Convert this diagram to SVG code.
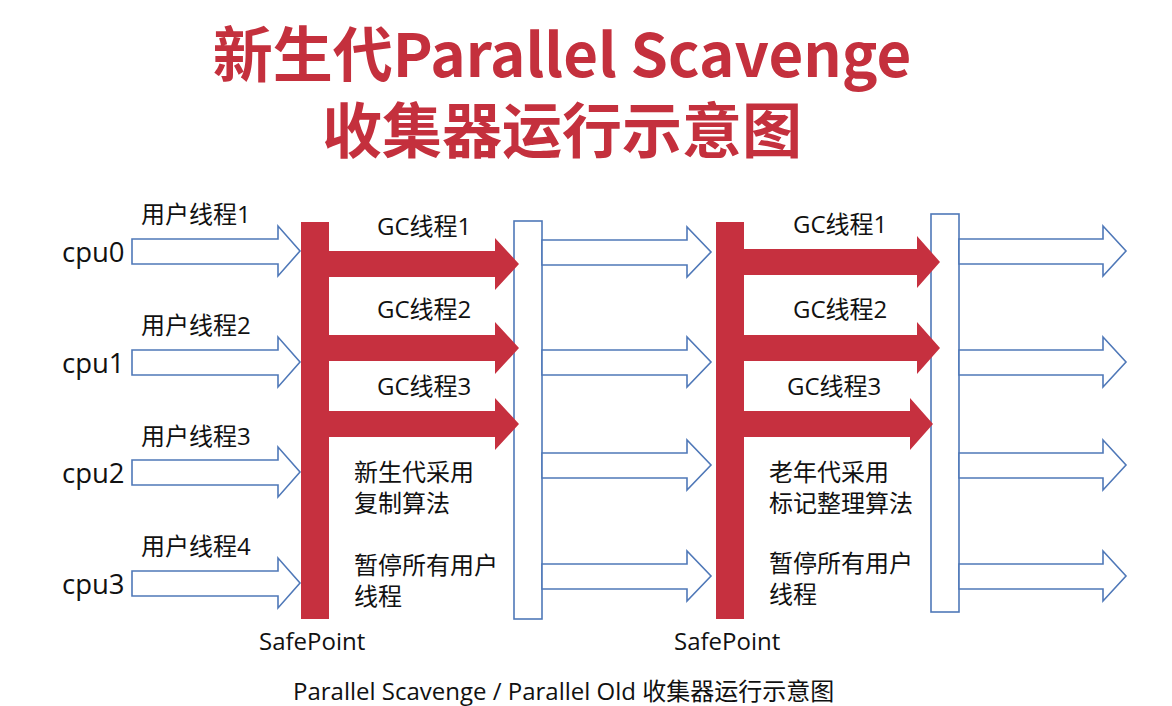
<svg xmlns="http://www.w3.org/2000/svg" width="1172" height="706" viewBox="0 0 1172 706">
<style>
.title{font-family:"Noto Sans CJK SC","Noto Sans",sans-serif;font-weight:bold;font-size:60px;fill:#C4303D;text-anchor:middle}
.lbl{font-family:"Open Sans","Noto Sans CJK SC",sans-serif;font-size:24px;fill:#111}
.cpu{font-family:"Open Sans","Noto Sans CJK SC",sans-serif;font-size:27.5px;fill:#111}
.note{font-family:"Open Sans","Noto Sans CJK SC",sans-serif;font-size:24px;fill:#111}
.cap{font-family:"Open Sans","Noto Sans CJK SC",sans-serif;font-size:24px;fill:#111}
.red{fill:#C6303F}
.box{fill:#fff;stroke:#4F78B8;stroke-width:1.6}
.blue{fill:#fff;stroke:#4F78B8;stroke-width:1.6;stroke-linejoin:miter}
</style>
<rect width="1172" height="706" fill="#fff"/>
<g id="title">
<text class="title" x="562" y="77">新生代Parallel Scavenge</text>
<text class="title" x="562" y="153">收集器运行示意图</text>
</g>
<g id="cpu-labels">
<text class="cpu" x="62" y="262">cpu0</text>
<text class="cpu" x="62" y="373">cpu1</text>
<text class="cpu" x="62" y="483">cpu2</text>
<text class="cpu" x="62" y="594">cpu3</text>
</g>
<g id="user-thread-labels">
<text class="lbl" x="141" y="223">用户线程1</text>
<text class="lbl" x="141" y="334">用户线程2</text>
<text class="lbl" x="141" y="445">用户线程3</text>
<text class="lbl" x="141" y="555">用户线程4</text>
</g>
<g id="box1"><rect class="box" x="514" y="221" width="28" height="398"/></g>
<g id="box2"><rect class="box" x="931" y="214" width="28" height="398"/></g>
<g id="safepoint1">
<rect class="red" x="301" y="222" width="28" height="397"/>
<text class="note" x="259" y="650">SafePoint</text>
</g>
<g id="safepoint2">
<rect class="red" x="716" y="222" width="28" height="397"/>
<text class="note" x="674" y="650">SafePoint</text>
</g>
<g id="connectors">
<polygon class="blue" points="132,239 278,239 278,226 300,251 278,276 278,264 132,264"/>
<polygon class="blue" points="132,350 278,350 278,337 300,362 278,387 278,375 132,375"/>
<polygon class="blue" points="132,460 278,460 278,447 300,472 278,497 278,485 132,485"/>
<polygon class="blue" points="132,571 278,571 278,558 300,583 278,608 278,596 132,596"/>
<polygon class="red" points="329,251 495,251 495,238 519,264 495,290 495,277 329,277"/>
<polygon class="red" points="329,335 495,335 495,322 519,348 495,374 495,361 329,361"/>
<polygon class="red" points="329,411 495,411 495,398 519,424 495,450 495,437 329,437"/>
<polygon class="blue" points="542,240 687,240 687,227 711,252 687,277 687,265 542,265"/>
<polygon class="blue" points="542,350 687,350 687,337 711,362 687,387 687,375 542,375"/>
<polygon class="blue" points="542,453 687,453 687,440 711,465 687,490 687,478 542,478"/>
<polygon class="blue" points="542,564 687,564 687,551 711,576 687,601 687,589 542,589"/>
<polygon class="red" points="744,249 917,249 917,236 940,262 917,288 917,275 744,275"/>
<polygon class="red" points="744,335 917,335 917,322 940,348 917,374 917,361 744,361"/>
<polygon class="red" points="744,411 910,411 910,398 933,424 910,450 910,437 744,437"/>
<polygon class="blue" points="959,239 1103,239 1103,226 1126,251 1103,276 1103,264 959,264"/>
<polygon class="blue" points="959,350 1103,350 1103,337 1126,362 1103,387 1103,375 959,375"/>
<polygon class="blue" points="959,453 1103,453 1103,440 1126,465 1103,490 1103,478 959,478"/>
<polygon class="blue" points="959,564 1103,564 1103,551 1126,576 1103,601 1103,589 959,589"/>
</g>
<g id="gc-labels">
<text class="lbl" x="377" y="235">GC线程1</text>
<text class="lbl" x="377" y="318">GC线程2</text>
<text class="lbl" x="377" y="395">GC线程3</text>
<text class="lbl" x="793" y="233">GC线程1</text>
<text class="lbl" x="793" y="318">GC线程2</text>
<text class="lbl" x="787" y="395">GC线程3</text>
</g>
<g id="notes">
<text class="note" x="354" y="481">新生代采用</text>
<text class="note" x="354" y="512">复制算法</text>
<text class="note" x="354" y="574">暂停所有用户</text>
<text class="note" x="354" y="605">线程</text>
<text class="note" x="769" y="481">老年代采用</text>
<text class="note" x="769" y="512">标记整理算法</text>
<text class="note" x="769" y="572">暂停所有用户</text>
<text class="note" x="769" y="603">线程</text>
</g>
<g id="caption">
<text class="cap" x="293" y="700">Parallel Scavenge / Parallel Old 收集器运行示意图</text>
</g>
</svg>
